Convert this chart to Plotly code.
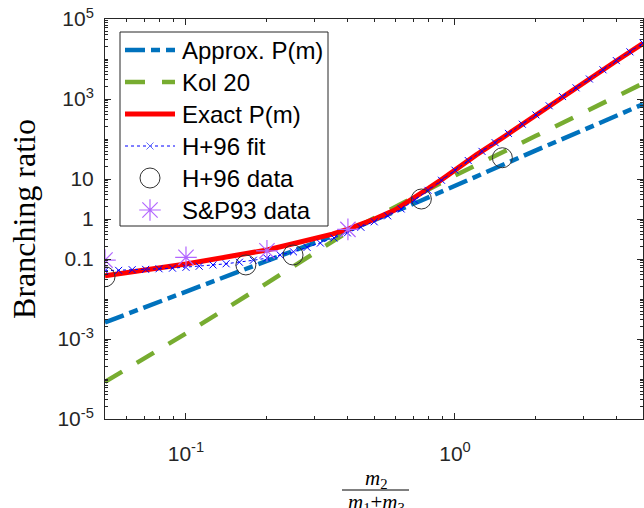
import plotly.graph_objects as go

# ---------------- data ----------------
approx_x = [0.05, 0.1, 0.2, 0.4, 0.5, 0.75, 1.0, 2.0, 3.0, 5.0]
approx_y = [0.0026, 0.0153, 0.09, 0.53, 0.93, 2.9, 6.9, 52, 167, 740]

kol_x = [0.05, 0.1, 0.2, 0.3, 0.4, 0.7, 1.0, 2.0, 3.0, 5.0]
kol_y = [8.5e-5, 1.38e-3, 0.025, 0.144, 0.48, 3.45, 12.2, 120, 470, 2450]

exact_x = [0.05, 0.07, 0.1, 0.15, 0.2, 0.25, 0.3, 0.35, 0.4, 0.5, 0.6, 0.7,
           0.8, 0.9, 1.0, 1.2, 1.5, 2.0, 2.5, 3.0, 4.0, 5.0]
exact_y = [0.038, 0.052, 0.075, 0.12, 0.168, 0.24, 0.32, 0.42, 0.56, 0.98, 1.7, 3.2,
           5.9, 10.1, 17, 40, 107, 400, 1120, 2450, 9200, 24500]

fit_x = [0.05, 0.0562, 0.0631, 0.0708, 0.0794, 0.0891, 0.1, 0.112, 0.126, 0.141,
         0.158, 0.178, 0.2, 0.224, 0.251, 0.282, 0.316, 0.355, 0.398, 0.447,
         0.501, 0.562, 0.631, 0.708, 0.794, 0.891, 1.0, 1.12, 1.26, 1.41,
         1.58, 1.78, 2.0, 2.24, 2.51, 2.82, 3.16, 3.55, 3.98, 4.47, 5.0]
fit_y = [0.051, 0.052, 0.054, 0.055, 0.057, 0.059, 0.062, 0.066, 0.071, 0.076,
         0.083, 0.093, 0.105, 0.126, 0.151, 0.195, 0.25, 0.335, 0.45, 0.62,
         0.85, 1.2, 1.78, 2.95, 5.2, 9.3, 16.6, 29, 49, 81,
         138, 234, 400, 676, 1150, 1900, 3160, 5370, 9120, 15100, 25100]

h96_x = [0.05, 0.167, 0.25, 0.75, 1.5]
h96_y = [0.036, 0.071, 0.126, 3.16, 34]

sp93_x = [0.05, 0.1, 0.2, 0.4]
sp93_y = [0.094, 0.11, 0.16, 0.55]

series_names = ["Approx. P(m)", "Kol 20", "Exact P(m)", "H+96 fit", "H+96 data", "S&amp;P93 data"]

ytick_vals = [1e-5, 1e-3, 0.1, 1, 10, 1e3, 1e5]
ytick_text = ["10<sup>-5</sup>", "10<sup>-3</sup>", "0.1", "1", "10", "10<sup>3</sup>", "10<sup>5</sup>"]
xtick_vals = [0.1, 1]
xtick_text = ["10<sup>-1</sup>", "10<sup>0</sup>"]

# minor tick positions (axis decoration)
x_minor = [d * 10 ** e for e in (-2, -1, 0) for d in range(1, 10)
           if 0.05 <= d * 10 ** e <= 5 and d * 10 ** e not in xtick_vals]
y_minor = [d * 10.0 ** e for e in range(-5, 5) for d in range(1, 10)
           if not any(abs(d * 10.0 ** e - v) < 1e-12 * max(v, 1) for v in ytick_vals)]

# ---------------- styles ----------------
W, H = 644, 508
ML, MR, MT, MB = 105, 1, 19, 89
PW, PH = W - ML - MR, H - MT - MB
AX = "#262626"
SANS = "Liberation Sans, Arial, sans-serif"
SERIF = "Liberation Serif, Times New Roman, serif"

styles = [
    dict(mode="lines", line=dict(color="#0072BD", width=4.5, dash="20px,6px,9px,6px")),
    dict(mode="lines", line=dict(color="#77AC30", width=4.5, dash="20px,17px")),
    dict(mode="lines", line=dict(color="#FF0000", width=5)),
    dict(mode="lines+markers", line=dict(color="#0000FF", width=1, dash="dot"),
         marker=dict(symbol="x-thin-open", size=7, line=dict(color="#0000FF", width=1))),
    dict(mode="markers", marker=dict(symbol="circle-open", size=20, color="#333333",
                                     line=dict(color="#333333", width=1))),
    dict(mode="markers", marker=dict(symbol="asterisk-open", size=18, color="#B266FF",
                                     line=dict(color="#B266FF", width=1.2))),
]
series = [(approx_x, approx_y), (kol_x, kol_y), (exact_x, exact_y),
          (fit_x, fit_y), (h96_x, h96_y), (sp93_x, sp93_y)]

fig = go.Figure()
for (sx, sy), st, nm in zip(series, styles, series_names):
    fig.add_trace(go.Scatter(x=sx, y=sy, name=nm, showlegend=False, **st))

# ---------------- legend (drawn on a pixel-unit overlay axis) ----------------
LEG_L, LEG_R, LEG_T, LEG_B = 120, 328, 32, 226
ROW0, ROWH = 50, 32
KEY_X0, KEY_X1, TXT_X = 125, 175, 180
annotations = []
for i, (st, nm) in enumerate(zip(styles, series_names)):
    yy = ROW0 + i * ROWH
    if "lines" in st["mode"]:
        fig.add_trace(go.Scatter(x=[KEY_X0, KEY_X1], y=[yy, yy], mode="lines",
                                 line=st["line"], xaxis="x2", yaxis="y2",
                                 showlegend=False, hoverinfo="skip"))
    if "markers" in st["mode"]:
        fig.add_trace(go.Scatter(x=[(KEY_X0 + KEY_X1) / 2], y=[yy], mode="markers",
                                 marker=st["marker"], xaxis="x2", yaxis="y2",
                                 showlegend=False, hoverinfo="skip"))
    annotations.append(dict(text=nm, x=TXT_X, y=yy, xref="x2", yref="y2",
                            xanchor="left", yanchor="middle", showarrow=False,
                            font=dict(family=SANS, size=24, color="#000000")))

axis_common = dict(showline=True, linecolor=AX, linewidth=1, mirror="ticks",
                   ticks="inside", ticklen=6, tickcolor=AX, tickwidth=1,
                   showgrid=False, zeroline=False,
                   tickfont=dict(family=SANS, size=21, color=AX))

fig.update_layout(
    xaxis=dict(type="log", range=[-1.30103, 0.69897], tickmode="array",
               tickvals=xtick_vals, ticktext=xtick_text, ticklabelstandoff=16,
               minor=dict(ticks="inside", ticklen=3, tickcolor=AX, tickwidth=1,
                          tickmode="array", tickvals=x_minor, showgrid=False),
               **axis_common),
    yaxis=dict(type="log", range=[-5, 5], tickmode="array",
               tickvals=ytick_vals, ticktext=ytick_text, ticklabelstandoff=6,
               minor=dict(ticks="inside", ticklen=3, tickcolor=AX, tickwidth=1,
                          tickmode="array", tickvals=y_minor, showgrid=False),
               title=dict(text="Branching ratio",
                          font=dict(family=SERIF, size=32, color="#000000"), standoff=12),
               **axis_common),
    xaxis2=dict(overlaying="x", range=[ML, W - MR], visible=False, fixedrange=True),
    yaxis2=dict(overlaying="y", range=[H - MB, MT], visible=False, fixedrange=True),
)

def px2x(px):
    return (px - ML) / PW

def py2y(py):
    return (H - MB - py) / PH

annotations += [
    dict(text="<i>m</i><sub>2</sub>", x=px2x(376), y=py2y(479), xref="paper", yref="paper",
         showarrow=False, font=dict(family=SERIF, size=21, color="#000000"),
         xanchor="center", yanchor="middle"),
    dict(text="<i>m</i><sub>1</sub>+<i>m</i><sub>3</sub>", x=px2x(376), y=py2y(503),
         xref="paper", yref="paper", showarrow=False,
         font=dict(family=SERIF, size=21, color="#000000"),
         xanchor="center", yanchor="middle"),
]
shapes = [
    dict(type="line", xref="paper", yref="paper", x0=px2x(342), x1=px2x(409),
         y0=py2y(490), y1=py2y(490), line=dict(color="#000000", width=1)),
    dict(type="rect", xref="x2", yref="y2", x0=LEG_L, x1=LEG_R, y0=LEG_T, y1=LEG_B,
         line=dict(color=AX, width=1), fillcolor="white", layer="below"),
]

fig.update_layout(
    width=W, height=H, margin=dict(l=ML, r=MR, t=MT, b=MB, pad=0),
    paper_bgcolor="white", plot_bgcolor="white",
    font=dict(family=SANS, color=AX),
    showlegend=False,
    annotations=annotations, shapes=shapes,
)

fig.write_html("out.html")
